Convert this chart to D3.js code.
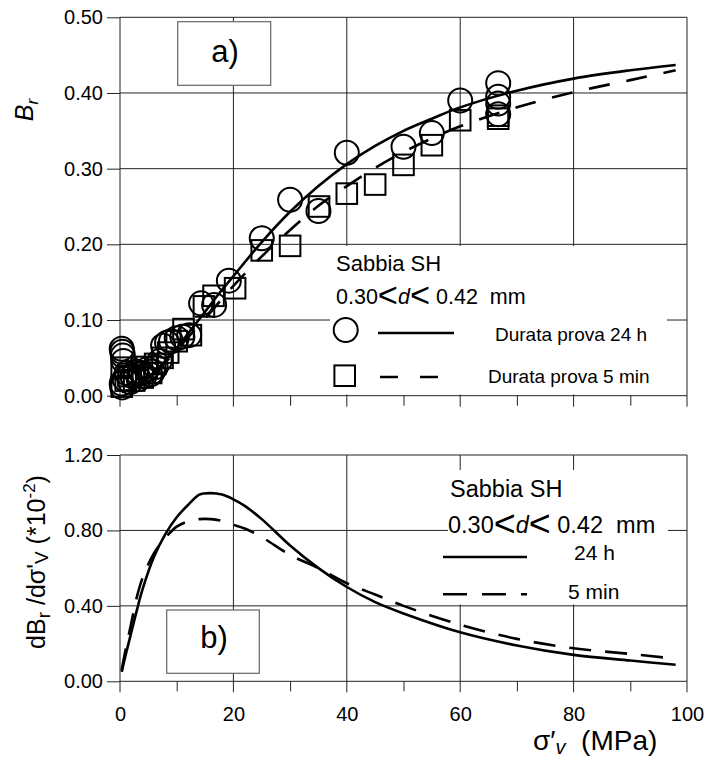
<!DOCTYPE html>
<html><head><meta charset="utf-8">
<script src="https://cdn.jsdelivr.net/npm/d3@7"></script>
<style>
body{margin:0;background:#fff}
svg{display:block}
text{font-family:"Liberation Sans",Arial,sans-serif;fill:#000}
</style>
</head><body>
<svg id="chart" width="707" height="760"></svg>
<script>
// ---------------- data ----------------
const xMajorTicks = [0, 20, 40, 60, 80, 100];
const xMinorTicks = [10, 30, 50, 70, 90];
const brTicks = [0, 0.1, 0.2, 0.3, 0.4, 0.5];
const dbrTicks = [0, 0.4, 0.8, 1.2];

// measured points, test duration 24 h (circles)
const circ24hX = [0.3, 0.4, 0.5, 0.6, 0.3, 0.4, 0.8, 1.2, 1.8, 2.2, 2.8, 3.3, 3.8, 4.3, 4.8, 5.3, 5.8, 6.3, 7.0,
                  7.6, 8.3, 9.0, 10.0, 11.0, 12.2, 14.3, 16.6, 19.2, 25, 30, 35, 40, 50, 55, 60, 66.7, 66.7, 66.7, 66.7];
const circ24hY = [0.062, 0.058, 0.053, 0.046, 0.016, 0.011, 0.022, 0.030, 0.018, 0.026, 0.032, 0.022, 0.030, 0.026, 0.035, 0.028, 0.032, 0.038, 0.046,
                  0.066, 0.070, 0.072, 0.076, 0.078, 0.080, 0.122, 0.120, 0.152, 0.208, 0.259, 0.244, 0.321, 0.329, 0.347, 0.390, 0.413, 0.395, 0.386, 0.372];

// measured points, test duration 5 min (squares)
const sq5minX = [0.3, 0.3, 1.0, 1.5, 2.5, 3.2, 4.0, 4.7, 5.5, 6.2, 7.5, 8.5, 10.0, 11.2, 12.5, 14.8, 16.5, 20.3,
                 25, 30, 35.1, 40, 45, 50, 55, 60, 66.7, 66.7];
const sq5minY = [0.037, 0.012, 0.020, 0.026, 0.020, 0.030, 0.024, 0.038, 0.030, 0.042, 0.050, 0.057, 0.072, 0.088, 0.080, 0.118, 0.132, 0.142,
                 0.192, 0.198, 0.250, 0.267, 0.279, 0.305, 0.331, 0.364, 0.370, 0.366];

// fitted curves, panel a)
const fitX = [0.3, 2, 4, 6, 8, 10, 12, 15, 18, 20, 25, 30, 35, 40, 45, 50, 55, 60, 70, 80, 90, 98];
const br24h = [0.005, 0.009, 0.018, 0.031, 0.046, 0.063, 0.082, 0.111, 0.140, 0.158, 0.203, 0.243, 0.277, 0.306, 0.330, 0.350, 0.366, 0.381, 0.403, 0.419, 0.430, 0.437];
const br5min = [0.005, 0.009, 0.018, 0.030, 0.044, 0.060, 0.077, 0.102, 0.128, 0.145, 0.184, 0.219, 0.251, 0.277, 0.301, 0.322, 0.340, 0.356, 0.381, 0.401, 0.417, 0.430];

// derivative curves, panel b)
const derX = [0.3, 1, 2, 3, 4, 6, 8, 10, 12, 14, 16, 18, 20, 22, 25, 30, 35, 40, 45, 50, 60, 70, 80, 90, 98];
const dbr24h = [0.05, 0.14, 0.26, 0.38, 0.49, 0.66, 0.78, 0.87, 0.935, 0.99, 0.998, 0.99, 0.965, 0.93, 0.86, 0.72, 0.60, 0.50, 0.42, 0.36, 0.26, 0.19, 0.14, 0.11, 0.088];
const dbr5min = [0.06, 0.17, 0.31, 0.45, 0.55, 0.68, 0.76, 0.82, 0.848, 0.86, 0.86, 0.85, 0.83, 0.81, 0.765, 0.67, 0.60, 0.52, 0.46, 0.40, 0.30, 0.225, 0.175, 0.145, 0.12];

// ---------------- drawing ----------------
const svg = d3.select("#chart");
const x = d3.scaleLinear().domain([0, 100]).range([120, 687]);
const yA = d3.scaleLinear().domain([0, 0.5]).range([395.7, 17.3]);
const yB = d3.scaleLinear().domain([0, 1.2]).range([681.3, 455]);
const GRID = "#222";

function panel(y, yTicks) {
  const g = svg.append("g");
  const y0 = y(0), yTop = y(yTicks[yTicks.length - 1]);
  g.selectAll(".hg").data(yTicks.filter(d => d > 0)).join("line")
    .attr("x1", x(0)).attr("x2", x(100)).attr("y1", d => y(d)).attr("y2", d => y(d))
    .attr("stroke", GRID).attr("stroke-width", 1);
  g.selectAll(".vg").data(xMajorTicks.filter(d => d > 0)).join("line")
    .attr("x1", d => x(d)).attr("x2", d => x(d)).attr("y1", yTop).attr("y2", y0 + 11)
    .attr("stroke", GRID).attr("stroke-width", 1);
}

function axes(y, yTicks, showXLabels) {
  const g = svg.append("g");
  const y0 = y(0), yTop = y(yTicks[yTicks.length - 1]);
  const ya = g.append("g").attr("transform", `translate(${x(0)},0)`)
    .call(d3.axisLeft(y).tickValues(yTicks).tickSize(13).tickSizeOuter(0).tickPadding(4).tickFormat(d3.format(".2f")));
  ya.select(".domain").remove();
  ya.selectAll("line").attr("stroke", GRID);
  ya.selectAll("text").attr("font-size", 20).attr("font-family", "Liberation Sans, Arial, sans-serif");
  g.append("line").attr("x1", x(0)).attr("x2", x(0)).attr("y1", yTop).attr("y2", y0 + 11).attr("stroke", GRID);
  g.append("line").attr("x1", x(0)).attr("x2", x(100)).attr("y1", y0).attr("y2", y0).attr("stroke", GRID);
  const xa = g.append("g").attr("transform", `translate(0,${y0})`)
    .call(d3.axisBottom(x).tickValues(xMinorTicks).tickSize(10).tickSizeOuter(0).tickFormat(""));
  xa.select(".domain").remove();
  xa.selectAll("line").attr("stroke", GRID);
  if (showXLabels) {
    const xl = g.append("g").attr("transform", `translate(0,${y0})`)
      .call(d3.axisBottom(x).tickValues(xMajorTicks).tickSize(0).tickPadding(26).tickFormat(d3.format("d")));
    xl.select(".domain").remove();
    xl.selectAll("text").attr("font-size", 20).attr("font-family", "Liberation Sans, Arial, sans-serif");
  }
}

function labelBox(x0, y0, w, h, txt, tx, ty) {
  svg.append("rect").attr("x", x0).attr("y", y0).attr("width", w).attr("height", h)
    .attr("fill", "#fff").attr("stroke", "#666").attr("stroke-width", 1.2);
  svg.append("text").attr("x", tx).attr("y", ty).attr("text-anchor", "middle")
    .attr("font-size", 31).text(txt);
}

function rangeText(xp, yp, fs) {
  const t = svg.append("text").attr("x", xp).attr("y", yp).attr("font-size", fs).style("white-space", "pre");
  t.append("tspan").text("0.30");
  t.append("tspan").attr("font-size", fs * 1.6).attr("dy", 3).text("<");
  t.append("tspan").attr("font-style", "italic").attr("dy", -3).text("d");
  t.append("tspan").attr("font-size", fs * 1.6).attr("dy", 3).text("<");
  t.append("tspan").attr("dy", -3).text(" 0.42  mm");
}

const smooth = d3.curveCatmullRom.alpha(0.5);

// ---------- panel a ----------
panel(yA, brTicks);
svg.append("rect").attr("x", 330).attr("y", 246).attr("width", 337).attr("height", 148.5).attr("fill", "#fff");
labelBox(177.7, 21.7, 93, 63.6, "a)", 225, 62);
axes(yA, brTicks, false);

const lineA = d3.line().x(d => x(d[0])).y(d => yA(d[1])).curve(smooth);
svg.append("path").datum(fitX.map((v, i) => [v, br24h[i]])).attr("d", lineA)
  .attr("fill", "none").attr("stroke", "#000").attr("stroke-width", 2.6);
svg.append("path").datum(fitX.map((v, i) => [v, br5min[i]])).attr("d", lineA)
  .attr("fill", "none").attr("stroke", "#000").attr("stroke-width", 2.6).attr("stroke-dasharray", "21,17");

svg.append("g").selectAll("circle").data(circ24hX.map((v, i) => [v, circ24hY[i]])).join("circle")
  .attr("cx", d => x(d[0])).attr("cy", d => yA(d[1])).attr("r", 12)
  .attr("fill", "none").attr("stroke", "#000").attr("stroke-width", 2);
svg.append("g").selectAll("rect").data(sq5minX.map((v, i) => [v, sq5minY[i]])).join("rect")
  .attr("x", d => x(d[0]) - 10.3).attr("y", d => yA(d[1]) - 10.3).attr("width", 20.6).attr("height", 20.6)
  .attr("fill", "none").attr("stroke", "#000").attr("stroke-width", 2);

// legend a
svg.append("text").attr("x", 336).attr("y", 271).attr("font-size", 22).text("Sabbia SH");
rangeText(336, 304, 21.5);
svg.append("circle").attr("cx", 345.7).attr("cy", 330).attr("r", 12).attr("fill", "none").attr("stroke", "#000").attr("stroke-width", 2);
svg.append("line").attr("x1", 378).attr("x2", 454).attr("y1", 333).attr("y2", 333).attr("stroke", "#000").attr("stroke-width", 2.6);
svg.append("text").attr("x", 495).attr("y", 341).attr("font-size", 19).text("Durata prova 24 h");
svg.append("rect").attr("x", 334.4).attr("y", 365.4).attr("width", 20.6).attr("height", 20.6).attr("fill", "none").attr("stroke", "#000").attr("stroke-width", 2);
svg.append("line").attr("x1", 380).attr("x2", 440).attr("y1", 377).attr("y2", 377).attr("stroke", "#000").attr("stroke-width", 2.6).attr("stroke-dasharray", "18,22");
svg.append("text").attr("x", 488).attr("y", 383).attr("font-size", 19).text("Durata prova 5 min");

// y label a
svg.append("text").attr("transform", "translate(33,110) rotate(-90)").attr("text-anchor", "middle")
  .attr("font-size", 25).call(t => {
    t.append("tspan").attr("font-style", "italic").text("B");
    t.append("tspan").attr("font-style", "italic").attr("font-size", 17).attr("dy", 5).text("r");
  });

// ---------- panel b ----------
panel(yB, dbrTicks);
svg.append("rect").attr("x", 448).attr("y", 470).attr("width", 220).attr("height", 134.5).attr("fill", "#fff");
labelBox(166.7, 610, 92.6, 63.3, "b)", 214, 648);
axes(yB, dbrTicks, true);

const lineB = d3.line().x(d => x(d[0])).y(d => yB(d[1])).curve(smooth);
svg.append("path").datum(derX.map((v, i) => [v, dbr24h[i]])).attr("d", lineB)
  .attr("fill", "none").attr("stroke", "#000").attr("stroke-width", 2.6);
svg.append("path").datum(derX.map((v, i) => [v, dbr5min[i]])).attr("d", lineB)
  .attr("fill", "none").attr("stroke", "#000").attr("stroke-width", 2.6).attr("stroke-dasharray", "22,14");

// legend b
svg.append("text").attr("x", 450).attr("y", 497).attr("font-size", 23.5).text("Sabbia SH");
rangeText(448, 533, 23.5);
svg.append("line").attr("x1", 443).attr("x2", 527).attr("y1", 557).attr("y2", 557).attr("stroke", "#000").attr("stroke-width", 2.6);
svg.append("text").attr("x", 574).attr("y", 560).attr("font-size", 21).text("24 h");
svg.append("line").attr("x1", 443).attr("x2", 527).attr("y1", 594.3).attr("y2", 594.3).attr("stroke", "#000").attr("stroke-width", 2.6).attr("stroke-dasharray", "24,15");
svg.append("text").attr("x", 568).attr("y", 599).attr("font-size", 21).text("5 min");

// y label b
svg.append("text").attr("transform", "translate(45,562) rotate(-90)").attr("text-anchor", "middle")
  .attr("font-size", 25).call(t => {
    t.append("tspan").text("dB");
    t.append("tspan").attr("font-size", 19).attr("dy", 5).text("r");
    t.append("tspan").attr("dy", -5).style("white-space", "pre").text(" /dσ'");
    t.append("tspan").attr("font-size", 19).attr("dy", 3).text("V");
    t.append("tspan").attr("dy", -3).style("white-space", "pre").text(" (*10");
    t.append("tspan").attr("font-size", 17).attr("dy", -10).text("-2");
    t.append("tspan").attr("dy", 10).text(")");
  });

// x label
svg.append("text").attr("x", 533).attr("y", 750).attr("font-size", 28).style("white-space", "pre").call(t => {
  t.append("tspan").text("σ′");
  t.append("tspan").attr("font-style", "italic").attr("font-size", 20).attr("dy", 4).text("v");
  t.append("tspan").attr("dy", -4).text("  (MPa)");
});
</script>
</body></html>
